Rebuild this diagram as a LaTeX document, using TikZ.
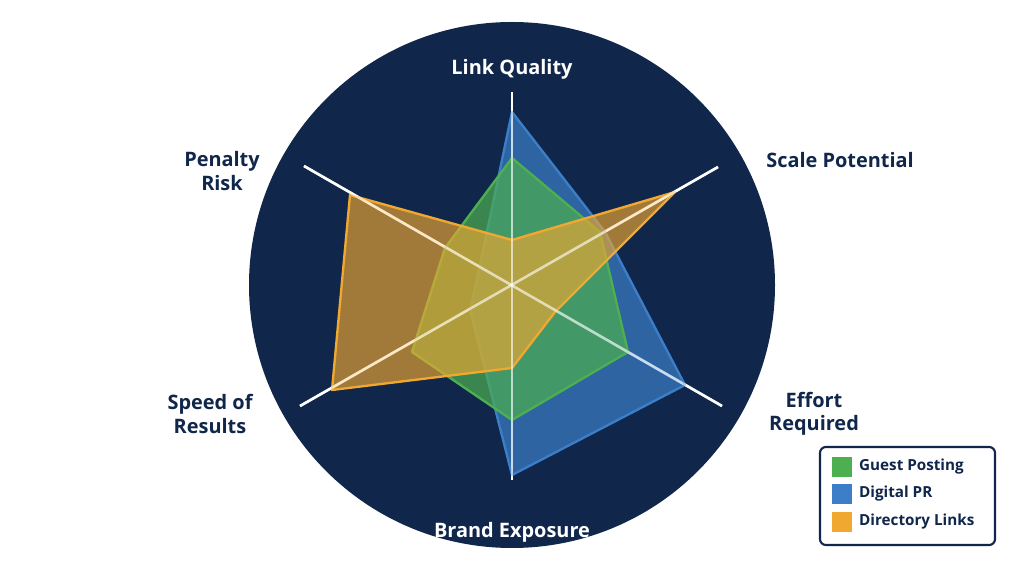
\documentclass[tikz,border=0pt]{standalone}
\usepackage{fontspec}
\setmainfont{Open Sans}
\definecolor{navy}{HTML}{10264B}
\definecolor{gr}{HTML}{4CAF50}
\definecolor{bl}{HTML}{3C7FC8}
\definecolor{og}{HTML}{F0A830}
\begin{document}
\begin{tikzpicture}[x=0.03cm,y=-0.03cm,
  lab/.style={font=\fontsize{17}{20}\selectfont\bfseries,text=navy,align=center},
  ax/.style={white,line width=2.2pt},
  poly/.style={line width=2pt,line join=round},
  leg/.style={font=\fontsize{13}{15}\selectfont\bfseries,text=navy,anchor=west}]
\useasboundingbox (0,0) rectangle (1024,572);
\fill[white] (0,0) rectangle (1024,572);
\fill[navy] (512,285) circle (263);
\coordinate (c) at (512,285);
\coordinate (t) at (512,92); \coordinate (b) at (512,480);
\coordinate (ur) at (718,167); \coordinate (ll) at (300,406);
\coordinate (ul) at (304,166); \coordinate (lr) at (722,406);
\draw[ax] (t) -- (b); \draw[ax] (ur) -- (ll); \draw[ax] (ul) -- (lr);
\fill[bl,fill opacity=0.7] (512,112) -- (605,232) -- (685,385) -- (512,475) -- (470,310) -- (480,265) -- cycle;
\draw[poly,bl] (512,112) -- (605,232) -- (685,385) -- (512,475) -- (470,310) -- (480,265) -- cycle;
\fill[gr,fill opacity=0.7] (512,158) -- (600,232) -- (628,352) -- (512,420) -- (412,352) -- (445,248) -- cycle;
\draw[poly,gr] (512,158) -- (600,232) -- (628,352) -- (512,420) -- (412,352) -- (445,248) -- cycle;
\fill[og,fill opacity=0.65] (512,240) -- (675,192) -- (555,312) -- (512,368) -- (332,390) -- (350,195) -- cycle;
\draw[poly,og] (512,240) -- (675,192) -- (555,312) -- (512,368) -- (332,390) -- (350,195) -- cycle;
\draw[ax,opacity=0.6] (t) -- (b); \draw[ax,opacity=0.6] (ur) -- (ll); \draw[ax,opacity=0.6] (ul) -- (lr);
\node[lab,text=white] (l1) at (512,69) {Link Quality};
\node[lab] (l2) at (840,160) {Scale Potential};
\node[lab] (l3) at (814,414) {Effort\\Required};
\node[lab,text=white] (l4) at (512,532) {Brand Exposure};
\node[lab] (l5) at (210,414) {Speed of\\Results};
\node[lab] (l6) at (222,171) {Penalty\\Risk};
\draw[navy,line width=1.8pt,fill=white,rounded corners=5pt] (820,447) rectangle (995,545);
\fill[gr] (832,457) rectangle (852,477); \node[leg] (g) at (855,467) {Guest Posting};
\fill[bl] (832,484) rectangle (852,504); \node[leg] (d) at (855,494) {Digital PR};
\fill[og] (832,512) rectangle (852,532); \node[leg] (o) at (855,522) {Directory Links};
\end{tikzpicture}
\end{document}
